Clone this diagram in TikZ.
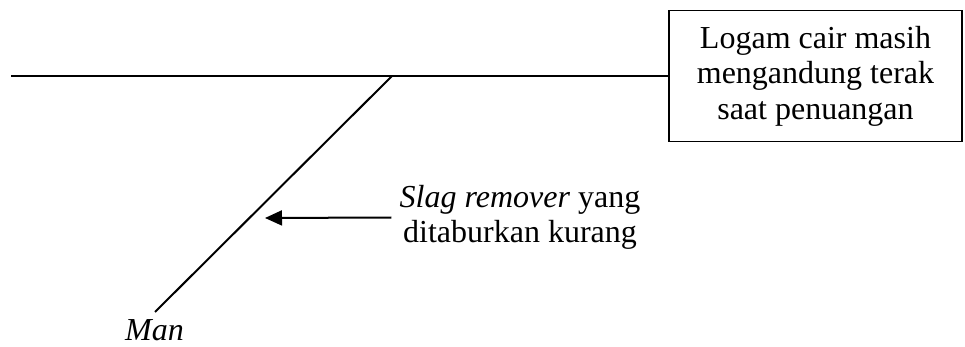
\documentclass[tikz,border=0pt]{standalone}
\usepackage{fontspec}
\setmainfont{Liberation Serif}
\usetikzlibrary{arrows.meta}
\begin{document}
\begin{tikzpicture}[x=1pt,y=-1pt,
    every node/.style={font=\fontsize{32}{35.5}\selectfont},
    bone/.style={line width=2pt},
    causebox/.style={draw,line width=1.1pt,minimum width=293pt,minimum height=131pt,align=center,inner sep=0pt},
    label/.style={align=center,inner sep=0pt},
    pointer/.style={line width=2pt,-{Triangle[length=17pt,width=15pt]}}]
  \useasboundingbox (0,0) rectangle (965,347);
  % effect box at the head of the spine
  \node[causebox] (effect) at (815.5,76) {Logam cair masih\\mengandung terak\\saat penuangan};
  % spine and the "Man" branch
  \coordinate (tail) at (11,76);
  \coordinate (fork) at (392,76);
  \coordinate (branchend) at (155,312);
  \draw[bone] (tail) -- (effect.west);
  \draw[bone] (fork) -- (branchend);
  \node[inner sep=0pt,anchor=base] (man) at (154.5,340) {\textit{Man}};
  % sub-cause pointing at the branch
  \node[label] (cause) at (520,217.5) {\textit{Slag remover} yang\\ditaburkan kurang};
  \coordinate (tail2) at ([xshift=-8pt]cause.west);
  \coordinate (tip) at (265,218);
  \draw[pointer] (tail2) -- (tip);
\end{tikzpicture}
\end{document}
